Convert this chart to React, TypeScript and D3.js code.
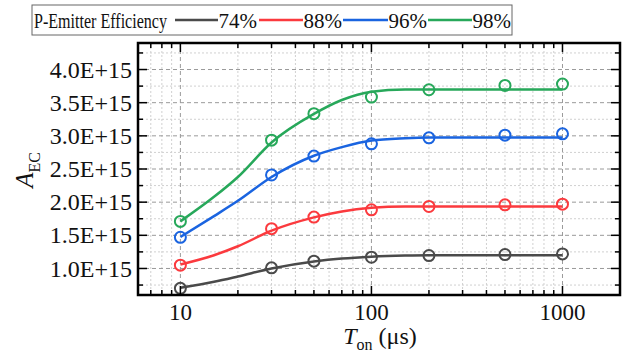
import * as d3 from "d3";

// measured points (A_EC in units of 1E+15)
const tOn = [10, 30, 50, 100, 200, 500, 1000];
const pts74 = [0.7, 1.01, 1.11, 1.17, 1.195, 1.21, 1.22];
const pts88 = [1.05, 1.6, 1.775, 1.885, 1.935, 1.96, 1.97];
const pts96 = [1.47, 2.41, 2.695, 2.88, 2.97, 3.01, 3.03];
const pts98 = [1.71, 2.935, 3.335, 3.585, 3.695, 3.76, 3.78];

// fitted curves
const fitT = [10, 15, 20, 30, 50, 70, 100, 150, 200, 500, 1000];
const fit74 = [0.71, 0.8, 0.88, 1.0, 1.105, 1.15, 1.178, 1.195, 1.2, 1.2, 1.2];
const fit88 = [1.06, 1.2, 1.335, 1.57, 1.77, 1.86, 1.915, 1.935, 1.935, 1.935, 1.935];
const fit96 = [1.475, 1.79, 2.02, 2.38, 2.7, 2.83, 2.93, 2.965, 2.975, 2.975, 2.975];
const fit98 = [1.71, 2.08, 2.38, 2.9, 3.33, 3.54, 3.665, 3.7, 3.7, 3.7, 3.7];

const seriesNames = ["74%", "88%", "96%", "98%"];
const seriesColors = ["#4a4a4a", "#fb3a3e", "#1a64e0", "#27a85a"];

const xMajorTicks = [10, 100, 1000];
const xMinorTicks = [7, 8, 9, 20, 30, 40, 50, 60, 70, 80, 90, 200, 300, 400, 500, 600, 700, 800, 900];
const yMajorTicks = [1.0, 1.5, 2.0, 2.5, 3.0, 3.5, 4.0];
const yMinorTicks = [0.75, 1.25, 1.75, 2.25, 2.75, 3.25, 3.75, 4.25];

const W = 633;
const H = 354;
const left = 138, right = 620, top = 43, bottom = 295;
const serif = { fontFamily: "Liberation Serif" };

const App = () => {
  const x = d3.scaleLog().domain([6, 2000]).range([left, right]);
  const y = d3.scaleLinear().domain([0.6, 4.4]).range([bottom, top]);

  const pts = [pts74, pts88, pts96, pts98];
  const fits = [fit74, fit88, fit96, fit98];

  const line = d3.line<number>()
    .x((_, i) => x(fitT[i]))
    .y(d => y(d))
    .curve(d3.curveMonotoneX);

  // legend layout: line start, line end, label end
  const legendItems = [
    [175, 218, 257],
    [259, 303, 342],
    [343, 388, 427],
    [428, 472, 511],
  ];

  return (
    <svg width={W} height={H} style={{ position: "absolute", left: 0, top: 0, background: "#fff" }}>
      {/* grid */}
      <g>
        {xMinorTicks.map(t => (
          <line key={"gx" + t} x1={x(t)} x2={x(t)} y1={top} y2={bottom}
            stroke="#d0d0d0" strokeDasharray="2,2" strokeWidth={1} />
        ))}
        {yMinorTicks.map(v => (
          <line key={"gy" + v} x1={left} x2={right} y1={y(v)} y2={y(v)}
            stroke="#d0d0d0" strokeDasharray="2,2" strokeWidth={1} />
        ))}
        {xMajorTicks.map(t => (
          <line key={"GX" + t} x1={x(t)} x2={x(t)} y1={top} y2={bottom}
            stroke="#9a9a9a" strokeDasharray="4,3" strokeWidth={1} />
        ))}
        {yMajorTicks.map(v => (
          <line key={"GY" + v} x1={left} x2={right} y1={y(v)} y2={y(v)}
            stroke="#9a9a9a" strokeDasharray="4,3" strokeWidth={1} />
        ))}
      </g>

      {/* fitted curves and points */}
      {fits.map((f, i) => (
        <path key={"f" + i} d={line(f) || ""} fill="none" stroke={seriesColors[i]} strokeWidth={2.5} />
      ))}
      {pts.map((p, i) => (
        <g key={"p" + i}>
          {p.map((v, j) => (
            <circle key={j} cx={x(tOn[j])} cy={y(v)} r={5.5} fill="none"
              stroke={seriesColors[i]} strokeWidth={2} />
          ))}
        </g>
      ))}

      {/* ticks, all four sides, pointing in */}
      <g stroke="#000" strokeWidth={1.5}>
        {xMajorTicks.map(t => (
          <g key={"tx" + t}>
            <line x1={x(t)} x2={x(t)} y1={bottom} y2={bottom - 9} />
            <line x1={x(t)} x2={x(t)} y1={top} y2={top + 9} />
          </g>
        ))}
        {xMinorTicks.map(t => (
          <g key={"mx" + t}>
            <line x1={x(t)} x2={x(t)} y1={bottom} y2={bottom - 5} />
            <line x1={x(t)} x2={x(t)} y1={top} y2={top + 5} />
          </g>
        ))}
        {yMajorTicks.map(v => (
          <g key={"ty" + v}>
            <line x1={left} x2={left + 9} y1={y(v)} y2={y(v)} />
            <line x1={right} x2={right - 9} y1={y(v)} y2={y(v)} />
          </g>
        ))}
        {yMinorTicks.map(v => (
          <g key={"my" + v}>
            <line x1={left} x2={left + 5} y1={y(v)} y2={y(v)} />
            <line x1={right} x2={right - 5} y1={y(v)} y2={y(v)} />
          </g>
        ))}
      </g>
      <rect x={left} y={top} width={right - left} height={bottom - top} fill="none" stroke="#000" strokeWidth={2.5} />

      {/* tick labels */}
      {xMajorTicks.map(t => (
        <text key={"lx" + t} x={x(t)} y={320} textAnchor="middle" fontSize={23} fill="#111" style={serif}>{t}</text>
      ))}
      {yMajorTicks.map(v => (
        <text key={"ly" + v} x={132} y={y(v)} dy="0.34em" textAnchor="end" fontSize={24} fill="#111" style={serif}>
          {v.toFixed(1) + "E+15"}
        </text>
      ))}

      {/* axis titles */}
      <text x={380} y={344} textAnchor="middle" fontSize={24} fill="#111" style={serif}>
        <tspan fontStyle="italic">T</tspan>
        <tspan fontSize={16} dy={6}>on</tspan>
        <tspan dy={-6}> (μs)</tspan>
      </text>
      <text transform="translate(33,170) rotate(-90)" textAnchor="middle" fontSize={25} fill="#111" style={serif}>
        <tspan fontStyle="italic">A</tspan>
        <tspan fontSize={16} dy={7}>EC</tspan>
      </text>

      {/* legend */}
      <rect x={32} y={5} width={480} height={30} fill="#fff" stroke="#666" strokeWidth={1} />
      <text x={34} y={28} fontSize={20} textLength={133} lengthAdjust="spacingAndGlyphs" fill="#111" style={serif}>
        P-Emitter Efficiency
      </text>
      {legendItems.map((l, i) => (
        <g key={"lg" + i}>
          <line x1={l[0]} x2={l[1]} y1={20} y2={20} stroke={seriesColors[i]} strokeWidth={2.5} />
          <text x={l[2]} y={28} textAnchor="end" fontSize={21} fill="#111" style={serif}>{seriesNames[i]}</text>
        </g>
      ))}
    </svg>
  );
};

export default App;
